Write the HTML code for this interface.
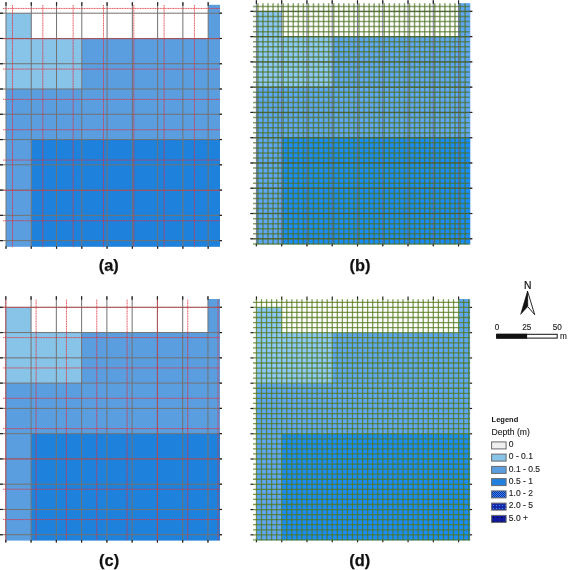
<!DOCTYPE html>
<html><head><meta charset="utf-8"><style>
html,body{margin:0;padding:0;background:#fff;}
body{width:568px;height:570px;overflow:hidden;position:relative;}
svg{position:absolute;left:0;top:0;font-family:"Liberation Sans",sans-serif;will-change:transform;}
#wrap{position:absolute;left:0;top:0;width:568px;height:570px;}
</style></head><body>
<div id="wrap"><svg width="568" height="570" viewBox="0 0 568 570">
<rect x="6" y="13.2" width="25.27" height="25.27" fill="#88C3E8"/>
<rect x="6" y="38.47" width="75.81" height="50.54" fill="#88C3E8"/>
<rect x="208.16" y="4.8" width="11.84" height="33.67" fill="#5A9EE0"/>
<rect x="81.81" y="38.47" width="138.19" height="50.54" fill="#5A9EE0"/>
<rect x="6" y="89.01" width="214" height="50.54" fill="#5A9EE0"/>
<rect x="6" y="139.55" width="25.27" height="107.25" fill="#5A9EE0"/>
<rect x="31.27" y="139.55" width="188.73" height="107.25" fill="#1E82DC"/>
<line x1="6" y1="2.2" x2="6" y2="248.8" stroke="#727272" stroke-width="1.0"/>
<line x1="31.27" y1="2.2" x2="31.27" y2="248.8" stroke="#727272" stroke-width="1.0"/>
<line x1="56.54" y1="2.2" x2="56.54" y2="248.8" stroke="#727272" stroke-width="1.0"/>
<line x1="81.81" y1="2.2" x2="81.81" y2="248.8" stroke="#727272" stroke-width="1.0"/>
<line x1="107.08" y1="2.2" x2="107.08" y2="248.8" stroke="#727272" stroke-width="1.0"/>
<line x1="132.35" y1="2.2" x2="132.35" y2="248.8" stroke="#727272" stroke-width="1.0"/>
<line x1="157.62" y1="2.2" x2="157.62" y2="248.8" stroke="#727272" stroke-width="1.0"/>
<line x1="182.89" y1="2.2" x2="182.89" y2="248.8" stroke="#727272" stroke-width="1.0"/>
<line x1="208.16" y1="2.2" x2="208.16" y2="248.8" stroke="#727272" stroke-width="1.0"/>
<line x1="0" y1="13.2" x2="222" y2="13.2" stroke="#727272" stroke-width="1.0"/>
<line x1="0" y1="38.47" x2="222" y2="38.47" stroke="#727272" stroke-width="1.0"/>
<line x1="0" y1="63.74" x2="222" y2="63.74" stroke="#727272" stroke-width="1.0"/>
<line x1="0" y1="89.01" x2="222" y2="89.01" stroke="#727272" stroke-width="1.0"/>
<line x1="0" y1="114.28" x2="222" y2="114.28" stroke="#727272" stroke-width="1.0"/>
<line x1="0" y1="139.55" x2="222" y2="139.55" stroke="#727272" stroke-width="1.0"/>
<line x1="0" y1="164.82" x2="222" y2="164.82" stroke="#727272" stroke-width="1.0"/>
<line x1="0" y1="190.09" x2="222" y2="190.09" stroke="#727272" stroke-width="1.0"/>
<line x1="0" y1="215.36" x2="222" y2="215.36" stroke="#727272" stroke-width="1.0"/>
<line x1="0" y1="240.63" x2="222" y2="240.63" stroke="#727272" stroke-width="1.0"/>
<line x1="6" y1="2.2" x2="6" y2="5.7" stroke="#222" stroke-width="1.2"/>
<line x1="6" y1="246.3" x2="6" y2="248.8" stroke="#222" stroke-width="1.2"/>
<line x1="31.27" y1="2.2" x2="31.27" y2="5.7" stroke="#222" stroke-width="1.2"/>
<line x1="31.27" y1="246.3" x2="31.27" y2="248.8" stroke="#222" stroke-width="1.2"/>
<line x1="56.54" y1="2.2" x2="56.54" y2="5.7" stroke="#222" stroke-width="1.2"/>
<line x1="56.54" y1="246.3" x2="56.54" y2="248.8" stroke="#222" stroke-width="1.2"/>
<line x1="81.81" y1="2.2" x2="81.81" y2="5.7" stroke="#222" stroke-width="1.2"/>
<line x1="81.81" y1="246.3" x2="81.81" y2="248.8" stroke="#222" stroke-width="1.2"/>
<line x1="107.08" y1="2.2" x2="107.08" y2="5.7" stroke="#222" stroke-width="1.2"/>
<line x1="107.08" y1="246.3" x2="107.08" y2="248.8" stroke="#222" stroke-width="1.2"/>
<line x1="132.35" y1="2.2" x2="132.35" y2="5.7" stroke="#222" stroke-width="1.2"/>
<line x1="132.35" y1="246.3" x2="132.35" y2="248.8" stroke="#222" stroke-width="1.2"/>
<line x1="157.62" y1="2.2" x2="157.62" y2="5.7" stroke="#222" stroke-width="1.2"/>
<line x1="157.62" y1="246.3" x2="157.62" y2="248.8" stroke="#222" stroke-width="1.2"/>
<line x1="182.89" y1="2.2" x2="182.89" y2="5.7" stroke="#222" stroke-width="1.2"/>
<line x1="182.89" y1="246.3" x2="182.89" y2="248.8" stroke="#222" stroke-width="1.2"/>
<line x1="208.16" y1="2.2" x2="208.16" y2="5.7" stroke="#222" stroke-width="1.2"/>
<line x1="208.16" y1="246.3" x2="208.16" y2="248.8" stroke="#222" stroke-width="1.2"/>
<line x1="0" y1="13.2" x2="3" y2="13.2" stroke="#222" stroke-width="1.2"/>
<line x1="219.5" y1="13.2" x2="222" y2="13.2" stroke="#222" stroke-width="1.2"/>
<line x1="0" y1="38.47" x2="3" y2="38.47" stroke="#222" stroke-width="1.2"/>
<line x1="219.5" y1="38.47" x2="222" y2="38.47" stroke="#222" stroke-width="1.2"/>
<line x1="0" y1="63.74" x2="3" y2="63.74" stroke="#222" stroke-width="1.2"/>
<line x1="219.5" y1="63.74" x2="222" y2="63.74" stroke="#222" stroke-width="1.2"/>
<line x1="0" y1="89.01" x2="3" y2="89.01" stroke="#222" stroke-width="1.2"/>
<line x1="219.5" y1="89.01" x2="222" y2="89.01" stroke="#222" stroke-width="1.2"/>
<line x1="0" y1="114.28" x2="3" y2="114.28" stroke="#222" stroke-width="1.2"/>
<line x1="219.5" y1="114.28" x2="222" y2="114.28" stroke="#222" stroke-width="1.2"/>
<line x1="0" y1="139.55" x2="3" y2="139.55" stroke="#222" stroke-width="1.2"/>
<line x1="219.5" y1="139.55" x2="222" y2="139.55" stroke="#222" stroke-width="1.2"/>
<line x1="0" y1="164.82" x2="3" y2="164.82" stroke="#222" stroke-width="1.2"/>
<line x1="219.5" y1="164.82" x2="222" y2="164.82" stroke="#222" stroke-width="1.2"/>
<line x1="0" y1="190.09" x2="3" y2="190.09" stroke="#222" stroke-width="1.2"/>
<line x1="219.5" y1="190.09" x2="222" y2="190.09" stroke="#222" stroke-width="1.2"/>
<line x1="0" y1="215.36" x2="3" y2="215.36" stroke="#222" stroke-width="1.2"/>
<line x1="219.5" y1="215.36" x2="222" y2="215.36" stroke="#222" stroke-width="1.2"/>
<line x1="0" y1="240.63" x2="3" y2="240.63" stroke="#222" stroke-width="1.2"/>
<line x1="219.5" y1="240.63" x2="222" y2="240.63" stroke="#222" stroke-width="1.2"/>
<line x1="12.5" y1="5" x2="12.5" y2="246.8" stroke="#e0303c" stroke-width="0.9" stroke-dasharray="1.2,0.45" stroke-opacity="0.88"/>
<line x1="42.82" y1="5" x2="42.82" y2="246.8" stroke="#e0303c" stroke-width="0.9" stroke-dasharray="1.2,0.45" stroke-opacity="0.88"/>
<line x1="73.15" y1="5" x2="73.15" y2="246.8" stroke="#e0303c" stroke-width="0.9" stroke-dasharray="1.2,0.45" stroke-opacity="0.88"/>
<line x1="103.47" y1="5" x2="103.47" y2="246.8" stroke="#e0303c" stroke-width="0.9" stroke-dasharray="1.2,0.45" stroke-opacity="0.88"/>
<line x1="133.8" y1="5" x2="133.8" y2="246.8" stroke="#e0303c" stroke-width="0.9" stroke-dasharray="1.2,0.45" stroke-opacity="0.88"/>
<line x1="164.12" y1="5" x2="164.12" y2="246.8" stroke="#e0303c" stroke-width="0.9" stroke-dasharray="1.2,0.45" stroke-opacity="0.88"/>
<line x1="194.44" y1="5" x2="194.44" y2="246.8" stroke="#e0303c" stroke-width="0.9" stroke-dasharray="1.2,0.45" stroke-opacity="0.88"/>
<line x1="3" y1="8.45" x2="220" y2="8.45" stroke="#e0303c" stroke-width="0.9" stroke-dasharray="1.2,0.45" stroke-opacity="0.88"/>
<line x1="3" y1="38.77" x2="220" y2="38.77" stroke="#e0303c" stroke-width="0.9" stroke-dasharray="1.2,0.45" stroke-opacity="0.88"/>
<line x1="3" y1="69.1" x2="220" y2="69.1" stroke="#e0303c" stroke-width="0.9" stroke-dasharray="1.2,0.45" stroke-opacity="0.88"/>
<line x1="3" y1="99.42" x2="220" y2="99.42" stroke="#e0303c" stroke-width="0.9" stroke-dasharray="1.2,0.45" stroke-opacity="0.88"/>
<line x1="3" y1="129.75" x2="220" y2="129.75" stroke="#e0303c" stroke-width="0.9" stroke-dasharray="1.2,0.45" stroke-opacity="0.88"/>
<line x1="3" y1="160.07" x2="220" y2="160.07" stroke="#e0303c" stroke-width="0.9" stroke-dasharray="1.2,0.45" stroke-opacity="0.88"/>
<line x1="3" y1="190.39" x2="220" y2="190.39" stroke="#e0303c" stroke-width="0.9" stroke-dasharray="1.2,0.45" stroke-opacity="0.88"/>
<line x1="3" y1="220.72" x2="220" y2="220.72" stroke="#e0303c" stroke-width="0.9" stroke-dasharray="1.2,0.45" stroke-opacity="0.88"/>
<rect x="5.8" y="307.3" width="25.27" height="25.27" fill="#88C3E8"/>
<rect x="5.8" y="332.57" width="75.81" height="50.54" fill="#88C3E8"/>
<rect x="207.96" y="299" width="12.04" height="33.57" fill="#5A9EE0"/>
<rect x="81.61" y="332.57" width="138.39" height="50.54" fill="#5A9EE0"/>
<rect x="5.8" y="383.11" width="214.2" height="50.54" fill="#5A9EE0"/>
<rect x="5.8" y="433.65" width="25.27" height="106.95" fill="#5A9EE0"/>
<rect x="31.07" y="433.65" width="188.93" height="106.95" fill="#1E82DC"/>
<line x1="5.8" y1="296.3" x2="5.8" y2="542.6" stroke="#727272" stroke-width="1.0"/>
<line x1="31.07" y1="296.3" x2="31.07" y2="542.6" stroke="#727272" stroke-width="1.0"/>
<line x1="56.34" y1="296.3" x2="56.34" y2="542.6" stroke="#727272" stroke-width="1.0"/>
<line x1="81.61" y1="296.3" x2="81.61" y2="542.6" stroke="#727272" stroke-width="1.0"/>
<line x1="106.88" y1="296.3" x2="106.88" y2="542.6" stroke="#727272" stroke-width="1.0"/>
<line x1="132.15" y1="296.3" x2="132.15" y2="542.6" stroke="#727272" stroke-width="1.0"/>
<line x1="157.42" y1="296.3" x2="157.42" y2="542.6" stroke="#727272" stroke-width="1.0"/>
<line x1="182.69" y1="296.3" x2="182.69" y2="542.6" stroke="#727272" stroke-width="1.0"/>
<line x1="207.96" y1="296.3" x2="207.96" y2="542.6" stroke="#727272" stroke-width="1.0"/>
<line x1="-0.2" y1="307.3" x2="222" y2="307.3" stroke="#727272" stroke-width="1.0"/>
<line x1="-0.2" y1="332.57" x2="222" y2="332.57" stroke="#727272" stroke-width="1.0"/>
<line x1="-0.2" y1="357.84" x2="222" y2="357.84" stroke="#727272" stroke-width="1.0"/>
<line x1="-0.2" y1="383.11" x2="222" y2="383.11" stroke="#727272" stroke-width="1.0"/>
<line x1="-0.2" y1="408.38" x2="222" y2="408.38" stroke="#727272" stroke-width="1.0"/>
<line x1="-0.2" y1="433.65" x2="222" y2="433.65" stroke="#727272" stroke-width="1.0"/>
<line x1="-0.2" y1="458.92" x2="222" y2="458.92" stroke="#727272" stroke-width="1.0"/>
<line x1="-0.2" y1="484.19" x2="222" y2="484.19" stroke="#727272" stroke-width="1.0"/>
<line x1="-0.2" y1="509.46" x2="222" y2="509.46" stroke="#727272" stroke-width="1.0"/>
<line x1="-0.2" y1="534.73" x2="222" y2="534.73" stroke="#727272" stroke-width="1.0"/>
<line x1="5.8" y1="296.3" x2="5.8" y2="299.8" stroke="#222" stroke-width="1.2"/>
<line x1="5.8" y1="540.1" x2="5.8" y2="542.6" stroke="#222" stroke-width="1.2"/>
<line x1="31.07" y1="296.3" x2="31.07" y2="299.8" stroke="#222" stroke-width="1.2"/>
<line x1="31.07" y1="540.1" x2="31.07" y2="542.6" stroke="#222" stroke-width="1.2"/>
<line x1="56.34" y1="296.3" x2="56.34" y2="299.8" stroke="#222" stroke-width="1.2"/>
<line x1="56.34" y1="540.1" x2="56.34" y2="542.6" stroke="#222" stroke-width="1.2"/>
<line x1="81.61" y1="296.3" x2="81.61" y2="299.8" stroke="#222" stroke-width="1.2"/>
<line x1="81.61" y1="540.1" x2="81.61" y2="542.6" stroke="#222" stroke-width="1.2"/>
<line x1="106.88" y1="296.3" x2="106.88" y2="299.8" stroke="#222" stroke-width="1.2"/>
<line x1="106.88" y1="540.1" x2="106.88" y2="542.6" stroke="#222" stroke-width="1.2"/>
<line x1="132.15" y1="296.3" x2="132.15" y2="299.8" stroke="#222" stroke-width="1.2"/>
<line x1="132.15" y1="540.1" x2="132.15" y2="542.6" stroke="#222" stroke-width="1.2"/>
<line x1="157.42" y1="296.3" x2="157.42" y2="299.8" stroke="#222" stroke-width="1.2"/>
<line x1="157.42" y1="540.1" x2="157.42" y2="542.6" stroke="#222" stroke-width="1.2"/>
<line x1="182.69" y1="296.3" x2="182.69" y2="299.8" stroke="#222" stroke-width="1.2"/>
<line x1="182.69" y1="540.1" x2="182.69" y2="542.6" stroke="#222" stroke-width="1.2"/>
<line x1="207.96" y1="296.3" x2="207.96" y2="299.8" stroke="#222" stroke-width="1.2"/>
<line x1="207.96" y1="540.1" x2="207.96" y2="542.6" stroke="#222" stroke-width="1.2"/>
<line x1="-0.2" y1="307.3" x2="2.8" y2="307.3" stroke="#222" stroke-width="1.2"/>
<line x1="219.5" y1="307.3" x2="222" y2="307.3" stroke="#222" stroke-width="1.2"/>
<line x1="-0.2" y1="332.57" x2="2.8" y2="332.57" stroke="#222" stroke-width="1.2"/>
<line x1="219.5" y1="332.57" x2="222" y2="332.57" stroke="#222" stroke-width="1.2"/>
<line x1="-0.2" y1="357.84" x2="2.8" y2="357.84" stroke="#222" stroke-width="1.2"/>
<line x1="219.5" y1="357.84" x2="222" y2="357.84" stroke="#222" stroke-width="1.2"/>
<line x1="-0.2" y1="383.11" x2="2.8" y2="383.11" stroke="#222" stroke-width="1.2"/>
<line x1="219.5" y1="383.11" x2="222" y2="383.11" stroke="#222" stroke-width="1.2"/>
<line x1="-0.2" y1="408.38" x2="2.8" y2="408.38" stroke="#222" stroke-width="1.2"/>
<line x1="219.5" y1="408.38" x2="222" y2="408.38" stroke="#222" stroke-width="1.2"/>
<line x1="-0.2" y1="433.65" x2="2.8" y2="433.65" stroke="#222" stroke-width="1.2"/>
<line x1="219.5" y1="433.65" x2="222" y2="433.65" stroke="#222" stroke-width="1.2"/>
<line x1="-0.2" y1="458.92" x2="2.8" y2="458.92" stroke="#222" stroke-width="1.2"/>
<line x1="219.5" y1="458.92" x2="222" y2="458.92" stroke="#222" stroke-width="1.2"/>
<line x1="-0.2" y1="484.19" x2="2.8" y2="484.19" stroke="#222" stroke-width="1.2"/>
<line x1="219.5" y1="484.19" x2="222" y2="484.19" stroke="#222" stroke-width="1.2"/>
<line x1="-0.2" y1="509.46" x2="2.8" y2="509.46" stroke="#222" stroke-width="1.2"/>
<line x1="219.5" y1="509.46" x2="222" y2="509.46" stroke="#222" stroke-width="1.2"/>
<line x1="-0.2" y1="534.73" x2="2.8" y2="534.73" stroke="#222" stroke-width="1.2"/>
<line x1="219.5" y1="534.73" x2="222" y2="534.73" stroke="#222" stroke-width="1.2"/>
<line x1="5.8" y1="299.5" x2="5.8" y2="540.6" stroke="#e0303c" stroke-width="0.9" stroke-dasharray="1.2,0.45" stroke-opacity="0.88"/>
<line x1="36.12" y1="299.5" x2="36.12" y2="540.6" stroke="#e0303c" stroke-width="0.9" stroke-dasharray="1.2,0.45" stroke-opacity="0.88"/>
<line x1="66.45" y1="299.5" x2="66.45" y2="540.6" stroke="#e0303c" stroke-width="0.9" stroke-dasharray="1.2,0.45" stroke-opacity="0.88"/>
<line x1="96.77" y1="299.5" x2="96.77" y2="540.6" stroke="#e0303c" stroke-width="0.9" stroke-dasharray="1.2,0.45" stroke-opacity="0.88"/>
<line x1="127.1" y1="299.5" x2="127.1" y2="540.6" stroke="#e0303c" stroke-width="0.9" stroke-dasharray="1.2,0.45" stroke-opacity="0.88"/>
<line x1="157.42" y1="299.5" x2="157.42" y2="540.6" stroke="#e0303c" stroke-width="0.9" stroke-dasharray="1.2,0.45" stroke-opacity="0.88"/>
<line x1="187.74" y1="299.5" x2="187.74" y2="540.6" stroke="#e0303c" stroke-width="0.9" stroke-dasharray="1.2,0.45" stroke-opacity="0.88"/>
<line x1="218.07" y1="299.5" x2="218.07" y2="540.6" stroke="#e0303c" stroke-width="0.9" stroke-dasharray="1.2,0.45" stroke-opacity="0.88"/>
<line x1="3" y1="307.3" x2="220" y2="307.3" stroke="#e0303c" stroke-width="0.9" stroke-dasharray="1.2,0.45" stroke-opacity="0.88"/>
<line x1="3" y1="337.62" x2="220" y2="337.62" stroke="#e0303c" stroke-width="0.9" stroke-dasharray="1.2,0.45" stroke-opacity="0.88"/>
<line x1="3" y1="367.95" x2="220" y2="367.95" stroke="#e0303c" stroke-width="0.9" stroke-dasharray="1.2,0.45" stroke-opacity="0.88"/>
<line x1="3" y1="398.27" x2="220" y2="398.27" stroke="#e0303c" stroke-width="0.9" stroke-dasharray="1.2,0.45" stroke-opacity="0.88"/>
<line x1="3" y1="428.6" x2="220" y2="428.6" stroke="#e0303c" stroke-width="0.9" stroke-dasharray="1.2,0.45" stroke-opacity="0.88"/>
<line x1="3" y1="458.92" x2="220" y2="458.92" stroke="#e0303c" stroke-width="0.9" stroke-dasharray="1.2,0.45" stroke-opacity="0.88"/>
<line x1="3" y1="489.24" x2="220" y2="489.24" stroke="#e0303c" stroke-width="0.9" stroke-dasharray="1.2,0.45" stroke-opacity="0.88"/>
<line x1="3" y1="519.57" x2="220" y2="519.57" stroke="#e0303c" stroke-width="0.9" stroke-dasharray="1.2,0.45" stroke-opacity="0.88"/>
<rect x="256.4" y="11.35" width="25.27" height="25.27" fill="#8CC8F8"/>
<rect x="256.4" y="36.62" width="75.81" height="50.54" fill="#8CC8F8"/>
<rect x="458.56" y="3.2" width="11.74" height="33.42" fill="#5FA6F5"/>
<rect x="332.21" y="36.62" width="138.09" height="50.54" fill="#5FA6F5"/>
<rect x="256.4" y="87.16" width="213.9" height="50.54" fill="#5FA6F5"/>
<rect x="256.4" y="137.7" width="25.27" height="106.6" fill="#5FA6F5"/>
<rect x="281.67" y="137.7" width="188.63" height="106.6" fill="#1A8CF8"/>
<line x1="256.4" y1="0.35" x2="256.4" y2="246.3" stroke="#6a6090" stroke-width="1.0" stroke-opacity="0.85"/>
<line x1="281.67" y1="0.35" x2="281.67" y2="246.3" stroke="#6a6090" stroke-width="1.0" stroke-opacity="0.85"/>
<line x1="306.94" y1="0.35" x2="306.94" y2="246.3" stroke="#6a6090" stroke-width="1.0" stroke-opacity="0.85"/>
<line x1="332.21" y1="0.35" x2="332.21" y2="246.3" stroke="#6a6090" stroke-width="1.0" stroke-opacity="0.85"/>
<line x1="357.48" y1="0.35" x2="357.48" y2="246.3" stroke="#6a6090" stroke-width="1.0" stroke-opacity="0.85"/>
<line x1="382.75" y1="0.35" x2="382.75" y2="246.3" stroke="#6a6090" stroke-width="1.0" stroke-opacity="0.85"/>
<line x1="408.02" y1="0.35" x2="408.02" y2="246.3" stroke="#6a6090" stroke-width="1.0" stroke-opacity="0.85"/>
<line x1="433.29" y1="0.35" x2="433.29" y2="246.3" stroke="#6a6090" stroke-width="1.0" stroke-opacity="0.85"/>
<line x1="458.56" y1="0.35" x2="458.56" y2="246.3" stroke="#6a6090" stroke-width="1.0" stroke-opacity="0.85"/>
<line x1="250.4" y1="11.35" x2="472.3" y2="11.35" stroke="#6a6090" stroke-width="1.0" stroke-opacity="0.85"/>
<line x1="250.4" y1="36.62" x2="472.3" y2="36.62" stroke="#6a6090" stroke-width="1.0" stroke-opacity="0.85"/>
<line x1="250.4" y1="61.89" x2="472.3" y2="61.89" stroke="#6a6090" stroke-width="1.0" stroke-opacity="0.85"/>
<line x1="250.4" y1="87.16" x2="472.3" y2="87.16" stroke="#6a6090" stroke-width="1.0" stroke-opacity="0.85"/>
<line x1="250.4" y1="112.43" x2="472.3" y2="112.43" stroke="#6a6090" stroke-width="1.0" stroke-opacity="0.85"/>
<line x1="250.4" y1="137.7" x2="472.3" y2="137.7" stroke="#6a6090" stroke-width="1.0" stroke-opacity="0.85"/>
<line x1="250.4" y1="162.97" x2="472.3" y2="162.97" stroke="#6a6090" stroke-width="1.0" stroke-opacity="0.85"/>
<line x1="250.4" y1="188.24" x2="472.3" y2="188.24" stroke="#6a6090" stroke-width="1.0" stroke-opacity="0.85"/>
<line x1="250.4" y1="213.51" x2="472.3" y2="213.51" stroke="#6a6090" stroke-width="1.0" stroke-opacity="0.85"/>
<line x1="250.4" y1="238.78" x2="472.3" y2="238.78" stroke="#6a6090" stroke-width="1.0" stroke-opacity="0.85"/>
<line x1="256.4" y1="0.35" x2="256.4" y2="3.85" stroke="#222" stroke-width="1.2"/>
<line x1="256.4" y1="243.8" x2="256.4" y2="246.3" stroke="#222" stroke-width="1.2"/>
<line x1="281.67" y1="0.35" x2="281.67" y2="3.85" stroke="#222" stroke-width="1.2"/>
<line x1="281.67" y1="243.8" x2="281.67" y2="246.3" stroke="#222" stroke-width="1.2"/>
<line x1="306.94" y1="0.35" x2="306.94" y2="3.85" stroke="#222" stroke-width="1.2"/>
<line x1="306.94" y1="243.8" x2="306.94" y2="246.3" stroke="#222" stroke-width="1.2"/>
<line x1="332.21" y1="0.35" x2="332.21" y2="3.85" stroke="#222" stroke-width="1.2"/>
<line x1="332.21" y1="243.8" x2="332.21" y2="246.3" stroke="#222" stroke-width="1.2"/>
<line x1="357.48" y1="0.35" x2="357.48" y2="3.85" stroke="#222" stroke-width="1.2"/>
<line x1="357.48" y1="243.8" x2="357.48" y2="246.3" stroke="#222" stroke-width="1.2"/>
<line x1="382.75" y1="0.35" x2="382.75" y2="3.85" stroke="#222" stroke-width="1.2"/>
<line x1="382.75" y1="243.8" x2="382.75" y2="246.3" stroke="#222" stroke-width="1.2"/>
<line x1="408.02" y1="0.35" x2="408.02" y2="3.85" stroke="#222" stroke-width="1.2"/>
<line x1="408.02" y1="243.8" x2="408.02" y2="246.3" stroke="#222" stroke-width="1.2"/>
<line x1="433.29" y1="0.35" x2="433.29" y2="3.85" stroke="#222" stroke-width="1.2"/>
<line x1="433.29" y1="243.8" x2="433.29" y2="246.3" stroke="#222" stroke-width="1.2"/>
<line x1="458.56" y1="0.35" x2="458.56" y2="3.85" stroke="#222" stroke-width="1.2"/>
<line x1="458.56" y1="243.8" x2="458.56" y2="246.3" stroke="#222" stroke-width="1.2"/>
<line x1="250.4" y1="11.35" x2="253.4" y2="11.35" stroke="#222" stroke-width="1.2"/>
<line x1="469.8" y1="11.35" x2="472.3" y2="11.35" stroke="#222" stroke-width="1.2"/>
<line x1="250.4" y1="36.62" x2="253.4" y2="36.62" stroke="#222" stroke-width="1.2"/>
<line x1="469.8" y1="36.62" x2="472.3" y2="36.62" stroke="#222" stroke-width="1.2"/>
<line x1="250.4" y1="61.89" x2="253.4" y2="61.89" stroke="#222" stroke-width="1.2"/>
<line x1="469.8" y1="61.89" x2="472.3" y2="61.89" stroke="#222" stroke-width="1.2"/>
<line x1="250.4" y1="87.16" x2="253.4" y2="87.16" stroke="#222" stroke-width="1.2"/>
<line x1="469.8" y1="87.16" x2="472.3" y2="87.16" stroke="#222" stroke-width="1.2"/>
<line x1="250.4" y1="112.43" x2="253.4" y2="112.43" stroke="#222" stroke-width="1.2"/>
<line x1="469.8" y1="112.43" x2="472.3" y2="112.43" stroke="#222" stroke-width="1.2"/>
<line x1="250.4" y1="137.7" x2="253.4" y2="137.7" stroke="#222" stroke-width="1.2"/>
<line x1="469.8" y1="137.7" x2="472.3" y2="137.7" stroke="#222" stroke-width="1.2"/>
<line x1="250.4" y1="162.97" x2="253.4" y2="162.97" stroke="#222" stroke-width="1.2"/>
<line x1="469.8" y1="162.97" x2="472.3" y2="162.97" stroke="#222" stroke-width="1.2"/>
<line x1="250.4" y1="188.24" x2="253.4" y2="188.24" stroke="#222" stroke-width="1.2"/>
<line x1="469.8" y1="188.24" x2="472.3" y2="188.24" stroke="#222" stroke-width="1.2"/>
<line x1="250.4" y1="213.51" x2="253.4" y2="213.51" stroke="#222" stroke-width="1.2"/>
<line x1="469.8" y1="213.51" x2="472.3" y2="213.51" stroke="#222" stroke-width="1.2"/>
<line x1="250.4" y1="238.78" x2="253.4" y2="238.78" stroke="#222" stroke-width="1.2"/>
<line x1="469.8" y1="238.78" x2="472.3" y2="238.78" stroke="#222" stroke-width="1.2"/>
<line x1="257.9" y1="3.2" x2="257.9" y2="244.3" stroke="#4c7020" stroke-width="1.5" stroke-opacity="0.66"/>
<line x1="262.95" y1="3.2" x2="262.95" y2="244.3" stroke="#4c7020" stroke-width="1.5" stroke-opacity="0.66"/>
<line x1="268.01" y1="3.2" x2="268.01" y2="244.3" stroke="#4c7020" stroke-width="1.5" stroke-opacity="0.66"/>
<line x1="273.06" y1="3.2" x2="273.06" y2="244.3" stroke="#4c7020" stroke-width="1.5" stroke-opacity="0.66"/>
<line x1="278.12" y1="3.2" x2="278.12" y2="244.3" stroke="#4c7020" stroke-width="1.5" stroke-opacity="0.66"/>
<line x1="283.17" y1="3.2" x2="283.17" y2="244.3" stroke="#4c7020" stroke-width="1.5" stroke-opacity="0.66"/>
<line x1="288.22" y1="3.2" x2="288.22" y2="244.3" stroke="#4c7020" stroke-width="1.5" stroke-opacity="0.66"/>
<line x1="293.28" y1="3.2" x2="293.28" y2="244.3" stroke="#4c7020" stroke-width="1.5" stroke-opacity="0.66"/>
<line x1="298.33" y1="3.2" x2="298.33" y2="244.3" stroke="#4c7020" stroke-width="1.5" stroke-opacity="0.66"/>
<line x1="303.39" y1="3.2" x2="303.39" y2="244.3" stroke="#4c7020" stroke-width="1.5" stroke-opacity="0.66"/>
<line x1="308.44" y1="3.2" x2="308.44" y2="244.3" stroke="#4c7020" stroke-width="1.5" stroke-opacity="0.66"/>
<line x1="313.49" y1="3.2" x2="313.49" y2="244.3" stroke="#4c7020" stroke-width="1.5" stroke-opacity="0.66"/>
<line x1="318.55" y1="3.2" x2="318.55" y2="244.3" stroke="#4c7020" stroke-width="1.5" stroke-opacity="0.66"/>
<line x1="323.6" y1="3.2" x2="323.6" y2="244.3" stroke="#4c7020" stroke-width="1.5" stroke-opacity="0.66"/>
<line x1="328.66" y1="3.2" x2="328.66" y2="244.3" stroke="#4c7020" stroke-width="1.5" stroke-opacity="0.66"/>
<line x1="333.71" y1="3.2" x2="333.71" y2="244.3" stroke="#4c7020" stroke-width="1.5" stroke-opacity="0.66"/>
<line x1="338.76" y1="3.2" x2="338.76" y2="244.3" stroke="#4c7020" stroke-width="1.5" stroke-opacity="0.66"/>
<line x1="343.82" y1="3.2" x2="343.82" y2="244.3" stroke="#4c7020" stroke-width="1.5" stroke-opacity="0.66"/>
<line x1="348.87" y1="3.2" x2="348.87" y2="244.3" stroke="#4c7020" stroke-width="1.5" stroke-opacity="0.66"/>
<line x1="353.93" y1="3.2" x2="353.93" y2="244.3" stroke="#4c7020" stroke-width="1.5" stroke-opacity="0.66"/>
<line x1="358.98" y1="3.2" x2="358.98" y2="244.3" stroke="#4c7020" stroke-width="1.5" stroke-opacity="0.66"/>
<line x1="364.03" y1="3.2" x2="364.03" y2="244.3" stroke="#4c7020" stroke-width="1.5" stroke-opacity="0.66"/>
<line x1="369.09" y1="3.2" x2="369.09" y2="244.3" stroke="#4c7020" stroke-width="1.5" stroke-opacity="0.66"/>
<line x1="374.14" y1="3.2" x2="374.14" y2="244.3" stroke="#4c7020" stroke-width="1.5" stroke-opacity="0.66"/>
<line x1="379.2" y1="3.2" x2="379.2" y2="244.3" stroke="#4c7020" stroke-width="1.5" stroke-opacity="0.66"/>
<line x1="384.25" y1="3.2" x2="384.25" y2="244.3" stroke="#4c7020" stroke-width="1.5" stroke-opacity="0.66"/>
<line x1="389.3" y1="3.2" x2="389.3" y2="244.3" stroke="#4c7020" stroke-width="1.5" stroke-opacity="0.66"/>
<line x1="394.36" y1="3.2" x2="394.36" y2="244.3" stroke="#4c7020" stroke-width="1.5" stroke-opacity="0.66"/>
<line x1="399.41" y1="3.2" x2="399.41" y2="244.3" stroke="#4c7020" stroke-width="1.5" stroke-opacity="0.66"/>
<line x1="404.47" y1="3.2" x2="404.47" y2="244.3" stroke="#4c7020" stroke-width="1.5" stroke-opacity="0.66"/>
<line x1="409.52" y1="3.2" x2="409.52" y2="244.3" stroke="#4c7020" stroke-width="1.5" stroke-opacity="0.66"/>
<line x1="414.57" y1="3.2" x2="414.57" y2="244.3" stroke="#4c7020" stroke-width="1.5" stroke-opacity="0.66"/>
<line x1="419.63" y1="3.2" x2="419.63" y2="244.3" stroke="#4c7020" stroke-width="1.5" stroke-opacity="0.66"/>
<line x1="424.68" y1="3.2" x2="424.68" y2="244.3" stroke="#4c7020" stroke-width="1.5" stroke-opacity="0.66"/>
<line x1="429.74" y1="3.2" x2="429.74" y2="244.3" stroke="#4c7020" stroke-width="1.5" stroke-opacity="0.66"/>
<line x1="434.79" y1="3.2" x2="434.79" y2="244.3" stroke="#4c7020" stroke-width="1.5" stroke-opacity="0.66"/>
<line x1="439.84" y1="3.2" x2="439.84" y2="244.3" stroke="#4c7020" stroke-width="1.5" stroke-opacity="0.66"/>
<line x1="444.9" y1="3.2" x2="444.9" y2="244.3" stroke="#4c7020" stroke-width="1.5" stroke-opacity="0.66"/>
<line x1="449.95" y1="3.2" x2="449.95" y2="244.3" stroke="#4c7020" stroke-width="1.5" stroke-opacity="0.66"/>
<line x1="455.01" y1="3.2" x2="455.01" y2="244.3" stroke="#4c7020" stroke-width="1.5" stroke-opacity="0.66"/>
<line x1="460.06" y1="3.2" x2="460.06" y2="244.3" stroke="#4c7020" stroke-width="1.5" stroke-opacity="0.66"/>
<line x1="465.11" y1="3.2" x2="465.11" y2="244.3" stroke="#4c7020" stroke-width="1.5" stroke-opacity="0.66"/>
<line x1="253" y1="6.39" x2="469.7" y2="6.39" stroke="#4c7020" stroke-width="1.5" stroke-opacity="0.66"/>
<line x1="253" y1="11.44" x2="469.7" y2="11.44" stroke="#4c7020" stroke-width="1.5" stroke-opacity="0.66"/>
<line x1="253" y1="16.49" x2="469.7" y2="16.49" stroke="#4c7020" stroke-width="1.5" stroke-opacity="0.66"/>
<line x1="253" y1="21.55" x2="469.7" y2="21.55" stroke="#4c7020" stroke-width="1.5" stroke-opacity="0.66"/>
<line x1="253" y1="26.6" x2="469.7" y2="26.6" stroke="#4c7020" stroke-width="1.5" stroke-opacity="0.66"/>
<line x1="253" y1="31.66" x2="469.7" y2="31.66" stroke="#4c7020" stroke-width="1.5" stroke-opacity="0.66"/>
<line x1="253" y1="36.71" x2="469.7" y2="36.71" stroke="#4c7020" stroke-width="1.5" stroke-opacity="0.66"/>
<line x1="253" y1="41.76" x2="469.7" y2="41.76" stroke="#4c7020" stroke-width="1.5" stroke-opacity="0.66"/>
<line x1="253" y1="46.82" x2="469.7" y2="46.82" stroke="#4c7020" stroke-width="1.5" stroke-opacity="0.66"/>
<line x1="253" y1="51.87" x2="469.7" y2="51.87" stroke="#4c7020" stroke-width="1.5" stroke-opacity="0.66"/>
<line x1="253" y1="56.93" x2="469.7" y2="56.93" stroke="#4c7020" stroke-width="1.5" stroke-opacity="0.66"/>
<line x1="253" y1="61.98" x2="469.7" y2="61.98" stroke="#4c7020" stroke-width="1.5" stroke-opacity="0.66"/>
<line x1="253" y1="67.03" x2="469.7" y2="67.03" stroke="#4c7020" stroke-width="1.5" stroke-opacity="0.66"/>
<line x1="253" y1="72.09" x2="469.7" y2="72.09" stroke="#4c7020" stroke-width="1.5" stroke-opacity="0.66"/>
<line x1="253" y1="77.14" x2="469.7" y2="77.14" stroke="#4c7020" stroke-width="1.5" stroke-opacity="0.66"/>
<line x1="253" y1="82.2" x2="469.7" y2="82.2" stroke="#4c7020" stroke-width="1.5" stroke-opacity="0.66"/>
<line x1="253" y1="87.25" x2="469.7" y2="87.25" stroke="#4c7020" stroke-width="1.5" stroke-opacity="0.66"/>
<line x1="253" y1="92.3" x2="469.7" y2="92.3" stroke="#4c7020" stroke-width="1.5" stroke-opacity="0.66"/>
<line x1="253" y1="97.36" x2="469.7" y2="97.36" stroke="#4c7020" stroke-width="1.5" stroke-opacity="0.66"/>
<line x1="253" y1="102.41" x2="469.7" y2="102.41" stroke="#4c7020" stroke-width="1.5" stroke-opacity="0.66"/>
<line x1="253" y1="107.47" x2="469.7" y2="107.47" stroke="#4c7020" stroke-width="1.5" stroke-opacity="0.66"/>
<line x1="253" y1="112.52" x2="469.7" y2="112.52" stroke="#4c7020" stroke-width="1.5" stroke-opacity="0.66"/>
<line x1="253" y1="117.57" x2="469.7" y2="117.57" stroke="#4c7020" stroke-width="1.5" stroke-opacity="0.66"/>
<line x1="253" y1="122.63" x2="469.7" y2="122.63" stroke="#4c7020" stroke-width="1.5" stroke-opacity="0.66"/>
<line x1="253" y1="127.68" x2="469.7" y2="127.68" stroke="#4c7020" stroke-width="1.5" stroke-opacity="0.66"/>
<line x1="253" y1="132.74" x2="469.7" y2="132.74" stroke="#4c7020" stroke-width="1.5" stroke-opacity="0.66"/>
<line x1="253" y1="137.79" x2="469.7" y2="137.79" stroke="#4c7020" stroke-width="1.5" stroke-opacity="0.66"/>
<line x1="253" y1="142.84" x2="469.7" y2="142.84" stroke="#4c7020" stroke-width="1.5" stroke-opacity="0.66"/>
<line x1="253" y1="147.9" x2="469.7" y2="147.9" stroke="#4c7020" stroke-width="1.5" stroke-opacity="0.66"/>
<line x1="253" y1="152.95" x2="469.7" y2="152.95" stroke="#4c7020" stroke-width="1.5" stroke-opacity="0.66"/>
<line x1="253" y1="158.01" x2="469.7" y2="158.01" stroke="#4c7020" stroke-width="1.5" stroke-opacity="0.66"/>
<line x1="253" y1="163.06" x2="469.7" y2="163.06" stroke="#4c7020" stroke-width="1.5" stroke-opacity="0.66"/>
<line x1="253" y1="168.11" x2="469.7" y2="168.11" stroke="#4c7020" stroke-width="1.5" stroke-opacity="0.66"/>
<line x1="253" y1="173.17" x2="469.7" y2="173.17" stroke="#4c7020" stroke-width="1.5" stroke-opacity="0.66"/>
<line x1="253" y1="178.22" x2="469.7" y2="178.22" stroke="#4c7020" stroke-width="1.5" stroke-opacity="0.66"/>
<line x1="253" y1="183.28" x2="469.7" y2="183.28" stroke="#4c7020" stroke-width="1.5" stroke-opacity="0.66"/>
<line x1="253" y1="188.33" x2="469.7" y2="188.33" stroke="#4c7020" stroke-width="1.5" stroke-opacity="0.66"/>
<line x1="253" y1="193.38" x2="469.7" y2="193.38" stroke="#4c7020" stroke-width="1.5" stroke-opacity="0.66"/>
<line x1="253" y1="198.44" x2="469.7" y2="198.44" stroke="#4c7020" stroke-width="1.5" stroke-opacity="0.66"/>
<line x1="253" y1="203.49" x2="469.7" y2="203.49" stroke="#4c7020" stroke-width="1.5" stroke-opacity="0.66"/>
<line x1="253" y1="208.55" x2="469.7" y2="208.55" stroke="#4c7020" stroke-width="1.5" stroke-opacity="0.66"/>
<line x1="253" y1="213.6" x2="469.7" y2="213.6" stroke="#4c7020" stroke-width="1.5" stroke-opacity="0.66"/>
<line x1="253" y1="218.65" x2="469.7" y2="218.65" stroke="#4c7020" stroke-width="1.5" stroke-opacity="0.66"/>
<line x1="253" y1="223.71" x2="469.7" y2="223.71" stroke="#4c7020" stroke-width="1.5" stroke-opacity="0.66"/>
<line x1="253" y1="228.76" x2="469.7" y2="228.76" stroke="#4c7020" stroke-width="1.5" stroke-opacity="0.66"/>
<line x1="253" y1="233.82" x2="469.7" y2="233.82" stroke="#4c7020" stroke-width="1.5" stroke-opacity="0.66"/>
<line x1="253" y1="238.87" x2="469.7" y2="238.87" stroke="#4c7020" stroke-width="1.5" stroke-opacity="0.66"/>
<line x1="253" y1="243.92" x2="469.7" y2="243.92" stroke="#4c7020" stroke-width="1.5" stroke-opacity="0.66"/>
<line x1="253.4" y1="11.35" x2="470.3" y2="11.35" stroke="#3a5218" stroke-width="1" stroke-opacity="0.4"/>
<line x1="253.4" y1="36.62" x2="470.3" y2="36.62" stroke="#3a5218" stroke-width="1" stroke-opacity="0.4"/>
<line x1="253.4" y1="61.89" x2="470.3" y2="61.89" stroke="#3a5218" stroke-width="1" stroke-opacity="0.4"/>
<line x1="253.4" y1="87.16" x2="470.3" y2="87.16" stroke="#3a5218" stroke-width="1" stroke-opacity="0.4"/>
<line x1="253.4" y1="112.43" x2="470.3" y2="112.43" stroke="#3a5218" stroke-width="1" stroke-opacity="0.4"/>
<line x1="253.4" y1="137.7" x2="470.3" y2="137.7" stroke="#3a5218" stroke-width="1" stroke-opacity="0.4"/>
<line x1="253.4" y1="162.97" x2="470.3" y2="162.97" stroke="#3a5218" stroke-width="1" stroke-opacity="0.4"/>
<line x1="253.4" y1="188.24" x2="470.3" y2="188.24" stroke="#3a5218" stroke-width="1" stroke-opacity="0.4"/>
<line x1="253.4" y1="213.51" x2="470.3" y2="213.51" stroke="#3a5218" stroke-width="1" stroke-opacity="0.4"/>
<line x1="253.4" y1="238.78" x2="470.3" y2="238.78" stroke="#3a5218" stroke-width="1" stroke-opacity="0.4"/>
<rect x="256.45" y="307.4" width="25.27" height="25.27" fill="#8CC8F8"/>
<rect x="256.45" y="332.67" width="75.81" height="50.54" fill="#8CC8F8"/>
<rect x="458.61" y="299" width="11.49" height="33.67" fill="#5FA6F5"/>
<rect x="332.26" y="332.67" width="137.84" height="50.54" fill="#5FA6F5"/>
<rect x="256.45" y="383.21" width="213.65" height="50.54" fill="#5FA6F5"/>
<rect x="256.45" y="433.75" width="25.27" height="106.55" fill="#5FA6F5"/>
<rect x="281.72" y="433.75" width="188.38" height="106.55" fill="#1A8CF8"/>
<line x1="256.45" y1="296.4" x2="256.45" y2="299.9" stroke="#222" stroke-width="1.2"/>
<line x1="256.45" y1="539.8" x2="256.45" y2="542.3" stroke="#222" stroke-width="1.2"/>
<line x1="281.72" y1="296.4" x2="281.72" y2="299.9" stroke="#222" stroke-width="1.2"/>
<line x1="281.72" y1="539.8" x2="281.72" y2="542.3" stroke="#222" stroke-width="1.2"/>
<line x1="306.99" y1="296.4" x2="306.99" y2="299.9" stroke="#222" stroke-width="1.2"/>
<line x1="306.99" y1="539.8" x2="306.99" y2="542.3" stroke="#222" stroke-width="1.2"/>
<line x1="332.26" y1="296.4" x2="332.26" y2="299.9" stroke="#222" stroke-width="1.2"/>
<line x1="332.26" y1="539.8" x2="332.26" y2="542.3" stroke="#222" stroke-width="1.2"/>
<line x1="357.53" y1="296.4" x2="357.53" y2="299.9" stroke="#222" stroke-width="1.2"/>
<line x1="357.53" y1="539.8" x2="357.53" y2="542.3" stroke="#222" stroke-width="1.2"/>
<line x1="382.8" y1="296.4" x2="382.8" y2="299.9" stroke="#222" stroke-width="1.2"/>
<line x1="382.8" y1="539.8" x2="382.8" y2="542.3" stroke="#222" stroke-width="1.2"/>
<line x1="408.07" y1="296.4" x2="408.07" y2="299.9" stroke="#222" stroke-width="1.2"/>
<line x1="408.07" y1="539.8" x2="408.07" y2="542.3" stroke="#222" stroke-width="1.2"/>
<line x1="433.34" y1="296.4" x2="433.34" y2="299.9" stroke="#222" stroke-width="1.2"/>
<line x1="433.34" y1="539.8" x2="433.34" y2="542.3" stroke="#222" stroke-width="1.2"/>
<line x1="458.61" y1="296.4" x2="458.61" y2="299.9" stroke="#222" stroke-width="1.2"/>
<line x1="458.61" y1="539.8" x2="458.61" y2="542.3" stroke="#222" stroke-width="1.2"/>
<line x1="250.45" y1="307.4" x2="253.45" y2="307.4" stroke="#222" stroke-width="1.2"/>
<line x1="469.6" y1="307.4" x2="472.1" y2="307.4" stroke="#222" stroke-width="1.2"/>
<line x1="250.45" y1="332.67" x2="253.45" y2="332.67" stroke="#222" stroke-width="1.2"/>
<line x1="469.6" y1="332.67" x2="472.1" y2="332.67" stroke="#222" stroke-width="1.2"/>
<line x1="250.45" y1="357.94" x2="253.45" y2="357.94" stroke="#222" stroke-width="1.2"/>
<line x1="469.6" y1="357.94" x2="472.1" y2="357.94" stroke="#222" stroke-width="1.2"/>
<line x1="250.45" y1="383.21" x2="253.45" y2="383.21" stroke="#222" stroke-width="1.2"/>
<line x1="469.6" y1="383.21" x2="472.1" y2="383.21" stroke="#222" stroke-width="1.2"/>
<line x1="250.45" y1="408.48" x2="253.45" y2="408.48" stroke="#222" stroke-width="1.2"/>
<line x1="469.6" y1="408.48" x2="472.1" y2="408.48" stroke="#222" stroke-width="1.2"/>
<line x1="250.45" y1="433.75" x2="253.45" y2="433.75" stroke="#222" stroke-width="1.2"/>
<line x1="469.6" y1="433.75" x2="472.1" y2="433.75" stroke="#222" stroke-width="1.2"/>
<line x1="250.45" y1="459.02" x2="253.45" y2="459.02" stroke="#222" stroke-width="1.2"/>
<line x1="469.6" y1="459.02" x2="472.1" y2="459.02" stroke="#222" stroke-width="1.2"/>
<line x1="250.45" y1="484.29" x2="253.45" y2="484.29" stroke="#222" stroke-width="1.2"/>
<line x1="469.6" y1="484.29" x2="472.1" y2="484.29" stroke="#222" stroke-width="1.2"/>
<line x1="250.45" y1="509.56" x2="253.45" y2="509.56" stroke="#222" stroke-width="1.2"/>
<line x1="469.6" y1="509.56" x2="472.1" y2="509.56" stroke="#222" stroke-width="1.2"/>
<line x1="250.45" y1="534.83" x2="253.45" y2="534.83" stroke="#222" stroke-width="1.2"/>
<line x1="469.6" y1="534.83" x2="472.1" y2="534.83" stroke="#222" stroke-width="1.2"/>
<line x1="256.45" y1="299.2" x2="256.45" y2="540.3" stroke="#52781a" stroke-width="1.3" stroke-opacity="0.75"/>
<line x1="261.5" y1="299.2" x2="261.5" y2="540.3" stroke="#52781a" stroke-width="1.3" stroke-opacity="0.75"/>
<line x1="266.56" y1="299.2" x2="266.56" y2="540.3" stroke="#52781a" stroke-width="1.3" stroke-opacity="0.75"/>
<line x1="271.61" y1="299.2" x2="271.61" y2="540.3" stroke="#52781a" stroke-width="1.3" stroke-opacity="0.75"/>
<line x1="276.67" y1="299.2" x2="276.67" y2="540.3" stroke="#52781a" stroke-width="1.3" stroke-opacity="0.75"/>
<line x1="281.72" y1="299.2" x2="281.72" y2="540.3" stroke="#52781a" stroke-width="1.3" stroke-opacity="0.75"/>
<line x1="286.77" y1="299.2" x2="286.77" y2="540.3" stroke="#52781a" stroke-width="1.3" stroke-opacity="0.75"/>
<line x1="291.83" y1="299.2" x2="291.83" y2="540.3" stroke="#52781a" stroke-width="1.3" stroke-opacity="0.75"/>
<line x1="296.88" y1="299.2" x2="296.88" y2="540.3" stroke="#52781a" stroke-width="1.3" stroke-opacity="0.75"/>
<line x1="301.94" y1="299.2" x2="301.94" y2="540.3" stroke="#52781a" stroke-width="1.3" stroke-opacity="0.75"/>
<line x1="306.99" y1="299.2" x2="306.99" y2="540.3" stroke="#52781a" stroke-width="1.3" stroke-opacity="0.75"/>
<line x1="312.04" y1="299.2" x2="312.04" y2="540.3" stroke="#52781a" stroke-width="1.3" stroke-opacity="0.75"/>
<line x1="317.1" y1="299.2" x2="317.1" y2="540.3" stroke="#52781a" stroke-width="1.3" stroke-opacity="0.75"/>
<line x1="322.15" y1="299.2" x2="322.15" y2="540.3" stroke="#52781a" stroke-width="1.3" stroke-opacity="0.75"/>
<line x1="327.21" y1="299.2" x2="327.21" y2="540.3" stroke="#52781a" stroke-width="1.3" stroke-opacity="0.75"/>
<line x1="332.26" y1="299.2" x2="332.26" y2="540.3" stroke="#52781a" stroke-width="1.3" stroke-opacity="0.75"/>
<line x1="337.31" y1="299.2" x2="337.31" y2="540.3" stroke="#52781a" stroke-width="1.3" stroke-opacity="0.75"/>
<line x1="342.37" y1="299.2" x2="342.37" y2="540.3" stroke="#52781a" stroke-width="1.3" stroke-opacity="0.75"/>
<line x1="347.42" y1="299.2" x2="347.42" y2="540.3" stroke="#52781a" stroke-width="1.3" stroke-opacity="0.75"/>
<line x1="352.48" y1="299.2" x2="352.48" y2="540.3" stroke="#52781a" stroke-width="1.3" stroke-opacity="0.75"/>
<line x1="357.53" y1="299.2" x2="357.53" y2="540.3" stroke="#52781a" stroke-width="1.3" stroke-opacity="0.75"/>
<line x1="362.58" y1="299.2" x2="362.58" y2="540.3" stroke="#52781a" stroke-width="1.3" stroke-opacity="0.75"/>
<line x1="367.64" y1="299.2" x2="367.64" y2="540.3" stroke="#52781a" stroke-width="1.3" stroke-opacity="0.75"/>
<line x1="372.69" y1="299.2" x2="372.69" y2="540.3" stroke="#52781a" stroke-width="1.3" stroke-opacity="0.75"/>
<line x1="377.75" y1="299.2" x2="377.75" y2="540.3" stroke="#52781a" stroke-width="1.3" stroke-opacity="0.75"/>
<line x1="382.8" y1="299.2" x2="382.8" y2="540.3" stroke="#52781a" stroke-width="1.3" stroke-opacity="0.75"/>
<line x1="387.85" y1="299.2" x2="387.85" y2="540.3" stroke="#52781a" stroke-width="1.3" stroke-opacity="0.75"/>
<line x1="392.91" y1="299.2" x2="392.91" y2="540.3" stroke="#52781a" stroke-width="1.3" stroke-opacity="0.75"/>
<line x1="397.96" y1="299.2" x2="397.96" y2="540.3" stroke="#52781a" stroke-width="1.3" stroke-opacity="0.75"/>
<line x1="403.02" y1="299.2" x2="403.02" y2="540.3" stroke="#52781a" stroke-width="1.3" stroke-opacity="0.75"/>
<line x1="408.07" y1="299.2" x2="408.07" y2="540.3" stroke="#52781a" stroke-width="1.3" stroke-opacity="0.75"/>
<line x1="413.12" y1="299.2" x2="413.12" y2="540.3" stroke="#52781a" stroke-width="1.3" stroke-opacity="0.75"/>
<line x1="418.18" y1="299.2" x2="418.18" y2="540.3" stroke="#52781a" stroke-width="1.3" stroke-opacity="0.75"/>
<line x1="423.23" y1="299.2" x2="423.23" y2="540.3" stroke="#52781a" stroke-width="1.3" stroke-opacity="0.75"/>
<line x1="428.29" y1="299.2" x2="428.29" y2="540.3" stroke="#52781a" stroke-width="1.3" stroke-opacity="0.75"/>
<line x1="433.34" y1="299.2" x2="433.34" y2="540.3" stroke="#52781a" stroke-width="1.3" stroke-opacity="0.75"/>
<line x1="438.39" y1="299.2" x2="438.39" y2="540.3" stroke="#52781a" stroke-width="1.3" stroke-opacity="0.75"/>
<line x1="443.45" y1="299.2" x2="443.45" y2="540.3" stroke="#52781a" stroke-width="1.3" stroke-opacity="0.75"/>
<line x1="448.5" y1="299.2" x2="448.5" y2="540.3" stroke="#52781a" stroke-width="1.3" stroke-opacity="0.75"/>
<line x1="453.56" y1="299.2" x2="453.56" y2="540.3" stroke="#52781a" stroke-width="1.3" stroke-opacity="0.75"/>
<line x1="458.61" y1="299.2" x2="458.61" y2="540.3" stroke="#52781a" stroke-width="1.3" stroke-opacity="0.75"/>
<line x1="463.66" y1="299.2" x2="463.66" y2="540.3" stroke="#52781a" stroke-width="1.3" stroke-opacity="0.75"/>
<line x1="468.72" y1="299.2" x2="468.72" y2="540.3" stroke="#52781a" stroke-width="1.3" stroke-opacity="0.75"/>
<line x1="253" y1="302.35" x2="470.1" y2="302.35" stroke="#52781a" stroke-width="1.3" stroke-opacity="0.75"/>
<line x1="253" y1="307.4" x2="470.1" y2="307.4" stroke="#52781a" stroke-width="1.3" stroke-opacity="0.75"/>
<line x1="253" y1="312.45" x2="470.1" y2="312.45" stroke="#52781a" stroke-width="1.3" stroke-opacity="0.75"/>
<line x1="253" y1="317.51" x2="470.1" y2="317.51" stroke="#52781a" stroke-width="1.3" stroke-opacity="0.75"/>
<line x1="253" y1="322.56" x2="470.1" y2="322.56" stroke="#52781a" stroke-width="1.3" stroke-opacity="0.75"/>
<line x1="253" y1="327.62" x2="470.1" y2="327.62" stroke="#52781a" stroke-width="1.3" stroke-opacity="0.75"/>
<line x1="253" y1="332.67" x2="470.1" y2="332.67" stroke="#52781a" stroke-width="1.3" stroke-opacity="0.75"/>
<line x1="253" y1="337.72" x2="470.1" y2="337.72" stroke="#52781a" stroke-width="1.3" stroke-opacity="0.75"/>
<line x1="253" y1="342.78" x2="470.1" y2="342.78" stroke="#52781a" stroke-width="1.3" stroke-opacity="0.75"/>
<line x1="253" y1="347.83" x2="470.1" y2="347.83" stroke="#52781a" stroke-width="1.3" stroke-opacity="0.75"/>
<line x1="253" y1="352.89" x2="470.1" y2="352.89" stroke="#52781a" stroke-width="1.3" stroke-opacity="0.75"/>
<line x1="253" y1="357.94" x2="470.1" y2="357.94" stroke="#52781a" stroke-width="1.3" stroke-opacity="0.75"/>
<line x1="253" y1="362.99" x2="470.1" y2="362.99" stroke="#52781a" stroke-width="1.3" stroke-opacity="0.75"/>
<line x1="253" y1="368.05" x2="470.1" y2="368.05" stroke="#52781a" stroke-width="1.3" stroke-opacity="0.75"/>
<line x1="253" y1="373.1" x2="470.1" y2="373.1" stroke="#52781a" stroke-width="1.3" stroke-opacity="0.75"/>
<line x1="253" y1="378.16" x2="470.1" y2="378.16" stroke="#52781a" stroke-width="1.3" stroke-opacity="0.75"/>
<line x1="253" y1="383.21" x2="470.1" y2="383.21" stroke="#52781a" stroke-width="1.3" stroke-opacity="0.75"/>
<line x1="253" y1="388.26" x2="470.1" y2="388.26" stroke="#52781a" stroke-width="1.3" stroke-opacity="0.75"/>
<line x1="253" y1="393.32" x2="470.1" y2="393.32" stroke="#52781a" stroke-width="1.3" stroke-opacity="0.75"/>
<line x1="253" y1="398.37" x2="470.1" y2="398.37" stroke="#52781a" stroke-width="1.3" stroke-opacity="0.75"/>
<line x1="253" y1="403.43" x2="470.1" y2="403.43" stroke="#52781a" stroke-width="1.3" stroke-opacity="0.75"/>
<line x1="253" y1="408.48" x2="470.1" y2="408.48" stroke="#52781a" stroke-width="1.3" stroke-opacity="0.75"/>
<line x1="253" y1="413.53" x2="470.1" y2="413.53" stroke="#52781a" stroke-width="1.3" stroke-opacity="0.75"/>
<line x1="253" y1="418.59" x2="470.1" y2="418.59" stroke="#52781a" stroke-width="1.3" stroke-opacity="0.75"/>
<line x1="253" y1="423.64" x2="470.1" y2="423.64" stroke="#52781a" stroke-width="1.3" stroke-opacity="0.75"/>
<line x1="253" y1="428.7" x2="470.1" y2="428.7" stroke="#52781a" stroke-width="1.3" stroke-opacity="0.75"/>
<line x1="253" y1="433.75" x2="470.1" y2="433.75" stroke="#52781a" stroke-width="1.3" stroke-opacity="0.75"/>
<line x1="253" y1="438.8" x2="470.1" y2="438.8" stroke="#52781a" stroke-width="1.3" stroke-opacity="0.75"/>
<line x1="253" y1="443.86" x2="470.1" y2="443.86" stroke="#52781a" stroke-width="1.3" stroke-opacity="0.75"/>
<line x1="253" y1="448.91" x2="470.1" y2="448.91" stroke="#52781a" stroke-width="1.3" stroke-opacity="0.75"/>
<line x1="253" y1="453.97" x2="470.1" y2="453.97" stroke="#52781a" stroke-width="1.3" stroke-opacity="0.75"/>
<line x1="253" y1="459.02" x2="470.1" y2="459.02" stroke="#52781a" stroke-width="1.3" stroke-opacity="0.75"/>
<line x1="253" y1="464.07" x2="470.1" y2="464.07" stroke="#52781a" stroke-width="1.3" stroke-opacity="0.75"/>
<line x1="253" y1="469.13" x2="470.1" y2="469.13" stroke="#52781a" stroke-width="1.3" stroke-opacity="0.75"/>
<line x1="253" y1="474.18" x2="470.1" y2="474.18" stroke="#52781a" stroke-width="1.3" stroke-opacity="0.75"/>
<line x1="253" y1="479.24" x2="470.1" y2="479.24" stroke="#52781a" stroke-width="1.3" stroke-opacity="0.75"/>
<line x1="253" y1="484.29" x2="470.1" y2="484.29" stroke="#52781a" stroke-width="1.3" stroke-opacity="0.75"/>
<line x1="253" y1="489.34" x2="470.1" y2="489.34" stroke="#52781a" stroke-width="1.3" stroke-opacity="0.75"/>
<line x1="253" y1="494.4" x2="470.1" y2="494.4" stroke="#52781a" stroke-width="1.3" stroke-opacity="0.75"/>
<line x1="253" y1="499.45" x2="470.1" y2="499.45" stroke="#52781a" stroke-width="1.3" stroke-opacity="0.75"/>
<line x1="253" y1="504.51" x2="470.1" y2="504.51" stroke="#52781a" stroke-width="1.3" stroke-opacity="0.75"/>
<line x1="253" y1="509.56" x2="470.1" y2="509.56" stroke="#52781a" stroke-width="1.3" stroke-opacity="0.75"/>
<line x1="253" y1="514.61" x2="470.1" y2="514.61" stroke="#52781a" stroke-width="1.3" stroke-opacity="0.75"/>
<line x1="253" y1="519.67" x2="470.1" y2="519.67" stroke="#52781a" stroke-width="1.3" stroke-opacity="0.75"/>
<line x1="253" y1="524.72" x2="470.1" y2="524.72" stroke="#52781a" stroke-width="1.3" stroke-opacity="0.75"/>
<line x1="253" y1="529.78" x2="470.1" y2="529.78" stroke="#52781a" stroke-width="1.3" stroke-opacity="0.75"/>
<line x1="253" y1="534.83" x2="470.1" y2="534.83" stroke="#52781a" stroke-width="1.3" stroke-opacity="0.75"/>
<line x1="253" y1="539.88" x2="470.1" y2="539.88" stroke="#52781a" stroke-width="1.3" stroke-opacity="0.75"/>
<text x="108.8" y="270.6" text-anchor="middle" font-size="16.4" font-weight="bold" fill="#111" stroke="#111" stroke-width="0.25">(a)</text>
<text x="359.9" y="270.6" text-anchor="middle" font-size="16.4" font-weight="bold" fill="#111" stroke="#111" stroke-width="0.25">(b)</text>
<text x="109.1" y="566" text-anchor="middle" font-size="16.4" font-weight="bold" fill="#111" stroke="#111" stroke-width="0.25">(c)</text>
<text x="359.8" y="566" text-anchor="middle" font-size="16.4" font-weight="bold" fill="#111" stroke="#111" stroke-width="0.25">(d)</text>
<text x="527.8" y="288.6" text-anchor="middle" font-size="10.3" fill="#111" stroke="#111" stroke-width="0.2">N</text>
<path d="M527.5 291.1 L520.7 314.3 L527.7 306.6 Z" fill="#111" stroke="#111" stroke-width="0.6" stroke-linejoin="round"/>
<path d="M527.5 291.1 L534.7 314.7 L527.7 306.6 Z" fill="#fff" stroke="#111" stroke-width="0.9" stroke-linejoin="round"/>
<rect x="496.7" y="334.3" width="60.5" height="3.8" fill="#fff" stroke="#111" stroke-width="1"/>
<rect x="496.2" y="333.8" width="30.9" height="4.8" fill="#111"/>
<text x="497.1" y="330.1" text-anchor="middle" font-size="8.2" fill="#1a1a1a" stroke="#1a1a1a" stroke-width="0.12">0</text>
<text x="526.8" y="330.1" text-anchor="middle" font-size="8.2" fill="#1a1a1a" stroke="#1a1a1a" stroke-width="0.12">25</text>
<text x="557.2" y="330.1" text-anchor="middle" font-size="8.2" fill="#1a1a1a" stroke="#1a1a1a" stroke-width="0.12">50</text>
<text x="560" y="338.6" font-size="8.2" fill="#1a1a1a" stroke="#1a1a1a" stroke-width="0.12">m</text>
<text x="491.6" y="422" font-size="7.5" font-weight="bold" fill="#111">Legend</text>
<text x="491.6" y="434.8" font-size="8.6" fill="#1a1a1a" stroke="#1a1a1a" stroke-width="0.12">Depth (m)</text>
<defs><pattern id="p5" width="2" height="2" patternUnits="userSpaceOnUse"><rect width="2" height="2" fill="#2E8CF0"/><rect width="1" height="1" fill="#1428A8"/><rect x="1" y="1" width="1" height="1" fill="#1428A8"/></pattern><pattern id="p6" width="3" height="3" patternUnits="userSpaceOnUse"><rect width="3" height="3" fill="#1428A8"/><rect x="1" y="1" width="1" height="1" fill="#3A8EF0"/></pattern><pattern id="p7" width="4" height="4" patternUnits="userSpaceOnUse"><rect width="4" height="4" fill="#1019A0"/><rect x="1" y="1" width="1" height="1" fill="#000"/></pattern></defs>
<rect x="491.6" y="441.9" width="14.5" height="7" fill="#EFEFEF" stroke="#6a6a6a" stroke-width="1"/>
<text x="508.8" y="447.2" font-size="8.5" fill="#1a1a1a" stroke="#1a1a1a" stroke-width="0.12">0</text>
<rect x="491.6" y="454.1" width="14.5" height="7" fill="#88C3E8" stroke="#6a6a6a" stroke-width="1"/>
<text x="508.8" y="459.4" font-size="8.5" fill="#1a1a1a" stroke="#1a1a1a" stroke-width="0.12">0 - 0.1</text>
<rect x="491.6" y="466.4" width="14.5" height="7" fill="#5A9EE0" stroke="#6a6a6a" stroke-width="1"/>
<text x="508.8" y="471.7" font-size="8.5" fill="#1a1a1a" stroke="#1a1a1a" stroke-width="0.12">0.1 - 0.5</text>
<rect x="491.6" y="478.6" width="14.5" height="7" fill="#2080E0" stroke="#6a6a6a" stroke-width="1"/>
<text x="508.8" y="483.9" font-size="8.5" fill="#1a1a1a" stroke="#1a1a1a" stroke-width="0.12">0.5 - 1</text>
<rect x="491.6" y="490.9" width="14.5" height="7" fill="url(#p5)" stroke="#6a6a6a" stroke-width="1"/>
<text x="508.8" y="496.2" font-size="8.5" fill="#1a1a1a" stroke="#1a1a1a" stroke-width="0.12">1.0 - 2</text>
<rect x="491.6" y="503.1" width="14.5" height="7" fill="url(#p6)" stroke="#6a6a6a" stroke-width="1"/>
<text x="508.8" y="508.4" font-size="8.5" fill="#1a1a1a" stroke="#1a1a1a" stroke-width="0.12">2.0 - 5</text>
<rect x="491.6" y="515.4" width="14.5" height="7" fill="url(#p7)" stroke="#6a6a6a" stroke-width="1"/>
<text x="508.8" y="520.7" font-size="8.5" fill="#1a1a1a" stroke="#1a1a1a" stroke-width="0.12">5.0 +</text>
</svg></div>
</body></html>
